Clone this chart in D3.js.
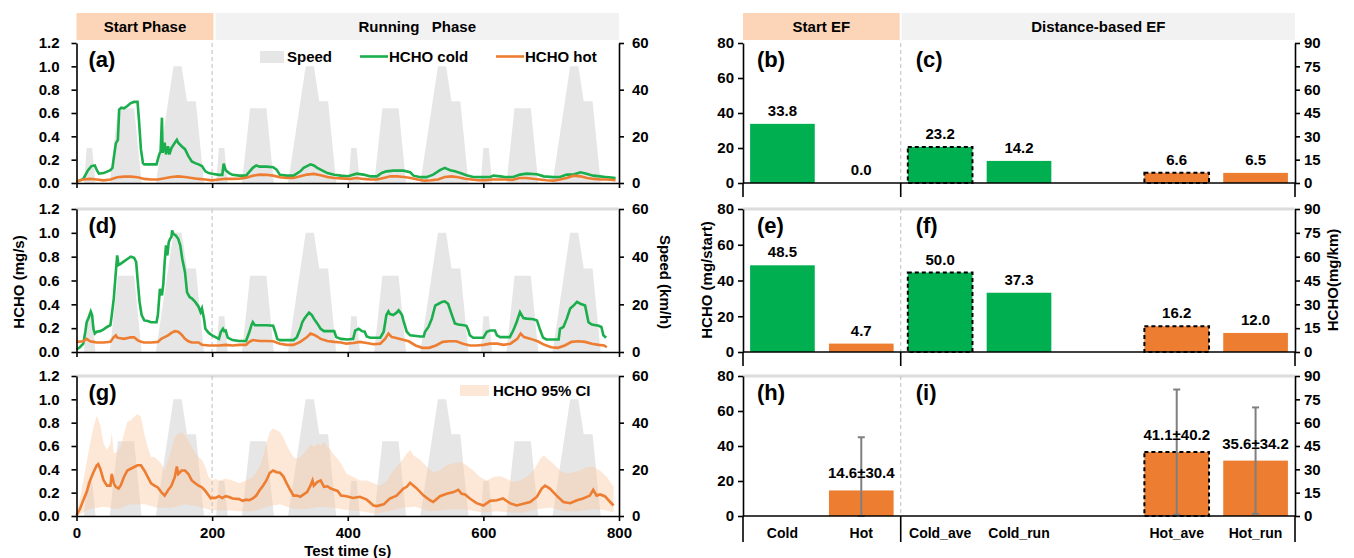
<!DOCTYPE html>
<html>
<head>
<meta charset="utf-8">
<script src="https://cdn.jsdelivr.net/npm/d3@7"></script>
<style>
  body { margin: 0; background: #fff; }
  svg text { font-family: "Liberation Sans", Arial, sans-serif; font-weight: bold; fill: #000; }
</style>
</head>
<body>
<div id="chart"></div>
<script>
// ---- speed profile (km/h), four urban cycles ----
var speedProfile = [
  [0,0],[11,0],[15,15],[23,15],[28,0],[49,0],[61,32],[85,32],[96,0],[117,0],[143,50],[155,50],[163,35],[176,35],[188,0],[195,0],
  [206,0],[210,15],[218,15],[223,0],[244,0],[256,32],[280,32],[291,0],[312,0],[338,50],[350,50],[358,35],[371,35],[383,0],[390,0],
  [401,0],[405,15],[413,15],[418,0],[439,0],[451,32],[475,32],[486,0],[507,0],[533,50],[545,50],[553,35],[566,35],[578,0],[585,0],
  [596,0],[600,15],[608,15],[613,0],[634,0],[646,32],[670,32],[681,0],[702,0],[728,50],[740,50],[748,35],[761,35],[773,0],[800,0]
];

// ---- (a) HCHO mg/s ----
var coldA = [[0,0.01],[10,0.035],[17,0.11],[22,0.145],[27,0.15],[30,0.11],[33,0.08],[40,0.085],[50,0.11],[53,0.13],[55,0.215],[58,0.34],[61,0.37],[63,0.63],[66,0.645],[70,0.64],[75,0.66],[80,0.685],[85,0.695],[90,0.695],[92,0.55],[95,0.29],[98,0.17],[100,0.16],[110,0.16],[118,0.16],[122,0.245],[124,0.27],[126,0.56],[127,0.26],[130,0.345],[132,0.245],[135,0.315],[137,0.245],[140,0.30],[145,0.345],[148,0.37],[150,0.345],[155,0.315],[160,0.29],[165,0.23],[170,0.185],[175,0.17],[180,0.16],[185,0.145],[190,0.10],[195,0.085],[200,0.08],[210,0.07],[215,0.07],[217,0.165],[220,0.11],[225,0.085],[230,0.07],[240,0.063],[250,0.063],[260,0.13],[265,0.15],[270,0.14],[280,0.14],[290,0.135],[295,0.115],[300,0.07],[310,0.063],[320,0.063],[330,0.10],[335,0.13],[340,0.145],[345,0.16],[350,0.15],[355,0.13],[360,0.115],[365,0.10],[370,0.085],[380,0.07],[390,0.063],[400,0.058],[403,0.063],[413,0.08],[423,0.072],[433,0.057],[443,0.057],[450,0.086],[457,0.10],[467,0.106],[482,0.106],[492,0.092],[497,0.063],[507,0.05],[516,0.05],[526,0.072],[536,0.11],[543,0.13],[551,0.11],[558,0.10],[566,0.086],[575,0.066],[585,0.052],[600,0.05],[610,0.052],[615,0.063],[625,0.057],[634,0.05],[644,0.052],[654,0.072],[664,0.08],[679,0.075],[689,0.057],[703,0.05],[713,0.052],[723,0.072],[733,0.072],[743,0.092],[752,0.08],[762,0.063],[772,0.057],[782,0.05],[795,0.043]];
var hotA = [[0,0.015],[10,0.03],[20,0.035],[30,0.03],[40,0.023],[50,0.03],[60,0.05],[70,0.055],[80,0.055],[90,0.05],[100,0.035],[110,0.03],[120,0.03],[130,0.04],[140,0.052],[150,0.057],[160,0.052],[170,0.043],[180,0.035],[190,0.03],[200,0.023],[210,0.03],[220,0.037],[230,0.035],[240,0.037],[250,0.046],[260,0.063],[270,0.072],[280,0.07],[290,0.063],[300,0.05],[310,0.043],[320,0.043],[330,0.057],[340,0.072],[350,0.078],[360,0.066],[370,0.052],[380,0.043],[390,0.04],[403,0.035],[413,0.043],[423,0.035],[433,0.03],[443,0.03],[453,0.043],[463,0.057],[473,0.057],[483,0.052],[493,0.043],[503,0.03],[513,0.02],[523,0.023],[533,0.03],[543,0.052],[553,0.057],[563,0.05],[573,0.037],[583,0.03],[593,0.023],[603,0.023],[613,0.03],[623,0.03],[633,0.03],[643,0.026],[653,0.043],[663,0.043],[673,0.037],[683,0.03],[693,0.023],[703,0.02],[713,0.03],[723,0.043],[733,0.063],[743,0.057],[753,0.043],[763,0.035],[773,0.03],[783,0.03],[795,0.023]];

// ---- (d) HCHO mg/s ----
var coldD = [[0,0.022],[5,0.04],[10,0.07],[13,0.17],[15,0.25],[18,0.29],[21,0.34],[23,0.31],[25,0.195],[27,0.155],[30,0.17],[35,0.175],[40,0.19],[45,0.21],[50,0.225],[52,0.31],[55,0.45],[58,0.67],[60,0.81],[62,0.73],[65,0.74],[70,0.76],[75,0.78],[80,0.80],[85,0.79],[88,0.755],[90,0.615],[93,0.42],[96,0.31],[100,0.265],[105,0.26],[110,0.25],[118,0.25],[120,0.31],[123,0.53],[126,0.475],[128,0.57],[130,0.755],[132,0.895],[134,0.81],[136,0.92],[138,0.95],[140,0.965],[141,1.02],[143,0.99],[146,0.98],[150,0.95],[153,0.895],[156,0.78],[160,0.67],[163,0.50],[167,0.46],[170,0.45],[175,0.42],[180,0.38],[183,0.335],[185,0.365],[188,0.28],[190,0.195],[195,0.16],[200,0.14],[205,0.125],[210,0.11],[213,0.17],[216,0.195],[218,0.175],[220,0.18],[223,0.12],[230,0.10],[240,0.092],[250,0.092],[255,0.17],[258,0.225],[260,0.25],[263,0.225],[270,0.225],[280,0.225],[290,0.22],[293,0.17],[296,0.11],[300,0.10],[310,0.10],[320,0.10],[325,0.125],[330,0.195],[333,0.25],[336,0.28],[340,0.31],[343,0.33],[347,0.31],[350,0.28],[355,0.24],[360,0.195],[365,0.175],[375,0.175],[380,0.175],[383,0.125],[390,0.11],[400,0.105],[408,0.11],[411,0.18],[416,0.195],[421,0.175],[425,0.17],[428,0.13],[433,0.12],[448,0.12],[453,0.17],[457,0.31],[460,0.34],[462,0.32],[467,0.31],[472,0.33],[475,0.35],[477,0.335],[480,0.31],[482,0.265],[487,0.17],[492,0.14],[507,0.13],[512,0.13],[514,0.17],[519,0.21],[524,0.28],[529,0.39],[534,0.405],[539,0.42],[543,0.425],[548,0.405],[553,0.32],[558,0.24],[563,0.23],[571,0.225],[575,0.22],[578,0.18],[580,0.14],[585,0.12],[600,0.12],[605,0.17],[610,0.18],[617,0.18],[620,0.14],[625,0.125],[639,0.125],[644,0.18],[649,0.25],[654,0.335],[659,0.285],[664,0.28],[674,0.275],[679,0.265],[684,0.18],[688,0.12],[693,0.105],[711,0.105],[713,0.195],[718,0.21],[723,0.28],[728,0.365],[733,0.39],[738,0.42],[743,0.405],[750,0.39],[755,0.25],[760,0.23],[770,0.22],[774,0.21],[777,0.14],[781,0.12]];
var hotD = [[0,0.085],[10,0.09],[15,0.11],[20,0.09],[25,0.085],[30,0.08],[40,0.08],[50,0.085],[55,0.125],[58,0.14],[60,0.12],[70,0.11],[80,0.123],[85,0.123],[90,0.10],[95,0.085],[100,0.08],[110,0.08],[120,0.085],[125,0.11],[130,0.125],[135,0.14],[140,0.16],[145,0.175],[150,0.17],[155,0.145],[160,0.11],[165,0.09],[170,0.08],[180,0.08],[185,0.06],[195,0.055],[210,0.055],[220,0.06],[230,0.055],[240,0.06],[250,0.06],[255,0.085],[260,0.10],[270,0.092],[280,0.092],[290,0.09],[300,0.07],[310,0.06],[320,0.06],[330,0.085],[340,0.125],[345,0.155],[350,0.145],[355,0.13],[360,0.11],[370,0.092],[380,0.085],[390,0.08],[398,0.07],[408,0.075],[418,0.085],[428,0.075],[438,0.065],[448,0.07],[455,0.11],[460,0.155],[465,0.125],[470,0.12],[480,0.105],[490,0.09],[500,0.055],[510,0.035],[520,0.035],[530,0.055],[540,0.085],[550,0.09],[560,0.09],[570,0.07],[580,0.055],[590,0.055],[600,0.06],[610,0.07],[620,0.07],[630,0.06],[640,0.07],[650,0.11],[655,0.155],[660,0.125],[670,0.11],[680,0.09],[690,0.06],[700,0.04],[710,0.035],[720,0.055],[730,0.085],[740,0.09],[750,0.085],[760,0.07],[770,0.06],[778,0.055],[782,0.04]];

// ---- (g) HCHO hot mean and 95% CI ----
var meanG = [[0,0.005],[5,0.06],[10,0.135],[15,0.205],[20,0.305],[25,0.375],[30,0.435],[32,0.445],[35,0.405],[40,0.305],[45,0.26],[50,0.26],[52,0.36],[55,0.28],[58,0.25],[62,0.235],[65,0.26],[70,0.335],[75,0.39],[80,0.405],[85,0.42],[90,0.435],[95,0.435],[100,0.39],[105,0.335],[110,0.28],[115,0.26],[120,0.245],[125,0.205],[130,0.175],[135,0.22],[140,0.26],[145,0.335],[148,0.425],[150,0.36],[155,0.39],[160,0.39],[165,0.36],[170,0.305],[175,0.28],[180,0.26],[185,0.245],[190,0.215],[195,0.175],[198,0.15],[200,0.155],[205,0.155],[210,0.17],[215,0.155],[220,0.17],[225,0.163],[230,0.15],[240,0.145],[245,0.13],[250,0.14],[255,0.135],[260,0.15],[265,0.175],[270,0.22],[275,0.26],[280,0.305],[285,0.37],[290,0.39],[295,0.375],[300,0.37],[305,0.34],[310,0.28],[315,0.225],[320,0.175],[325,0.175],[330,0.165],[335,0.185],[340,0.205],[345,0.26],[348,0.305],[350,0.26],[355,0.29],[360,0.305],[365,0.25],[370,0.255],[375,0.235],[380,0.225],[385,0.215],[390,0.175],[398,0.17],[408,0.155],[418,0.165],[428,0.14],[438,0.09],[443,0.085],[453,0.1],[462,0.15],[472,0.175],[482,0.235],[487,0.25],[492,0.285],[497,0.26],[502,0.235],[512,0.175],[521,0.135],[526,0.12],[536,0.17],[546,0.19],[556,0.205],[563,0.225],[568,0.19],[573,0.185],[580,0.15],[590,0.11],[600,0.09],[610,0.13],[620,0.135],[629,0.15],[639,0.11],[649,0.09],[659,0.105],[669,0.12],[679,0.165],[686,0.235],[691,0.26],[698,0.235],[708,0.175],[718,0.12],[728,0.11],[738,0.135],[747,0.15],[757,0.175],[762,0.225],[767,0.175],[772,0.185],[779,0.17],[787,0.12],[792,0.09]];
var upperG = [[0,0],[10,0.305],[20,0.62],[25,0.76],[30,0.86],[35,0.78],[40,0.62],[45,0.565],[50,0.62],[52,0.72],[55,0.535],[60,0.55],[65,0.59],[70,0.705],[75,0.805],[80,0.82],[85,0.85],[90,0.875],[95,0.85],[100,0.705],[105,0.59],[110,0.505],[115,0.505],[120,0.48],[125,0.45],[130,0.39],[135,0.48],[140,0.565],[145,0.675],[150,0.705],[155,0.72],[160,0.69],[165,0.65],[170,0.59],[175,0.535],[180,0.505],[185,0.48],[190,0.42],[195,0.335],[200,0.305],[205,0.32],[210,0.305],[220,0.32],[230,0.305],[240,0.28],[250,0.305],[260,0.335],[270,0.42],[275,0.505],[280,0.62],[285,0.72],[290,0.75],[295,0.735],[300,0.72],[305,0.675],[310,0.605],[315,0.55],[320,0.505],[325,0.49],[330,0.505],[335,0.535],[340,0.565],[345,0.62],[350,0.59],[355,0.62],[360,0.605],[365,0.635],[370,0.59],[375,0.565],[380,0.52],[385,0.49],[390,0.45],[398,0.365],[408,0.335],[418,0.305],[428,0.305],[438,0.28],[448,0.26],[458,0.305],[467,0.39],[477,0.45],[487,0.535],[492,0.565],[497,0.52],[507,0.48],[517,0.42],[526,0.375],[536,0.39],[546,0.435],[556,0.45],[566,0.465],[575,0.435],[585,0.39],[595,0.335],[605,0.305],[615,0.335],[625,0.34],[634,0.32],[644,0.29],[654,0.305],[664,0.335],[674,0.39],[684,0.49],[689,0.52],[694,0.49],[703,0.45],[713,0.39],[723,0.365],[733,0.375],[743,0.39],[752,0.42],[762,0.42],[772,0.39],[782,0.335],[792,0.25]];
var lowerG = [[0,0],[20,0.06],[40,0.08],[60,0.06],[80,0.1],[100,0.1],[120,0.07],[140,0.07],[160,0.1],[180,0.08],[200,0.05],[220,0.05],[240,0.04],[260,0.04],[280,0.08],[300,0.1],[320,0.06],[340,0.06],[360,0.08],[380,0.07],[400,0.05],[420,0.04],[440,0.02],[460,0.04],[480,0.07],[500,0.08],[520,0.04],[540,0.05],[560,0.06],[580,0.05],[600,0.03],[620,0.04],[640,0.03],[660,0.03],[680,0.06],[700,0.07],[720,0.04],[740,0.04],[760,0.06],[780,0.05],[792,0.03]];

// ---- emission factors (right column) ----
var categories = ["Cold", "Hot", "Cold_ave", "Cold_run", "", "Hot_ave", "Hot_run"];
var perStart = [true, true, false, false, false, false, false];   // left axis mg/start, else mg/km
var efB = [33.8, 0.0, 23.2, 14.2, null, 6.6, 6.5];
var efE = [48.5, 4.7, 50.0, 37.3, null, 16.2, 12.0];
var efH = [null, 14.6, null, null, null, 41.1, 35.6];
var errH = [null, 30.4, null, null, null, 40.2, 34.2];

var leftTicks = [0, 0.2, 0.4, 0.6, 0.8, 1.0, 1.2];
var speedTicks = [0, 20, 40, 60];
var timeTicks = [0, 200, 400, 600, 800];
var startTicks = [0, 20, 40, 60, 80];
var kmTicks = [0, 15, 30, 45, 60, 75, 90];

var GREEN = "#1aae4c", ORANGE = "#ed7d31", GREY = "#e6e6e6";

var width = 1354, height = 558;
var svg = d3.select("#chart").append("svg").attr("width", width).attr("height", height);

var rows = [[43, 183], [209, 352], [376, 516]];
var x = d3.scaleLinear().domain([0, 800]).range([76.5, 619]);

function styleAxis(g) {
  g.selectAll(".domain").attr("stroke", "#000").attr("stroke-width", 1.6);
  g.selectAll(".tick line").attr("stroke", "#000").attr("stroke-width", 1.6);
  g.selectAll(".tick text").attr("font-size", "15px");
}

// ---------- header boxes ----------
function header(x0, x1, label, fill) {
  svg.append("rect").attr("x", x0).attr("y", 13).attr("width", x1 - x0).attr("height", 27).attr("fill", fill);
  svg.append("text").attr("x", (x0 + x1) / 2).attr("y", 32).attr("text-anchor", "middle")
    .attr("font-size", "15px").style("white-space", "pre").text(label);
}
header(76.5, 213.5, "Start Phase", "#fcd5b8");
header(215.5, 619, "Running   Phase", "#f2f2f2");

// ---------- left column: time series ----------
var leftPanels = [
  {tag: "(a)", cold: coldA, hot: hotA},
  {tag: "(d)", cold: coldD, hot: hotD},
  {tag: "(g)", mean: meanG, upper: upperG, lower: lowerG}
];

leftPanels.forEach(function(p, i) {
  var top = rows[i][0], bottom = rows[i][1];
  var y = d3.scaleLinear().domain([0, 1.2]).range([bottom, top]);
  var ys = d3.scaleLinear().domain([0, 60]).range([bottom, top]);
  var g = svg.append("g");

  if (i > 0) {
    g.append("line").attr("x1", x(0)).attr("x2", x(800)).attr("y1", top).attr("y2", top)
      .attr("stroke", "#dcdcdc").attr("stroke-width", 3);
  }

  var area = d3.area().x(function(d) { return x(d[0]); }).y0(bottom).y1(function(d) { return ys(d[1]); });
  g.append("path").datum(speedProfile).attr("d", area).attr("fill", GREY);

  var line = d3.line().x(function(d) { return x(d[0]); }).y(function(d) { return y(d[1]); });

  if (p.upper) {
    var band = p.upper.concat(p.lower.slice().reverse());
    g.append("path").attr("d", line(band) + "Z").attr("fill", "#fbc9a4").attr("opacity", 0.45);
  }

  g.append("line").attr("x1", x(200)).attr("x2", x(200)).attr("y1", top).attr("y2", bottom)
    .attr("stroke", "#c8c8c8").attr("stroke-width", 1.2).attr("stroke-dasharray", "4,3");

  if (p.cold) {
    g.append("path").datum(p.cold).attr("d", line).attr("fill", "none").attr("stroke", GREEN).attr("stroke-width", 2.6);
    g.append("path").datum(p.hot).attr("d", line).attr("fill", "none").attr("stroke", ORANGE).attr("stroke-width", 2.6);
  } else {
    g.append("path").datum(p.mean).attr("d", line).attr("fill", "none").attr("stroke", ORANGE).attr("stroke-width", 2.6);
  }

  g.append("g").attr("transform", "translate(" + x(0) + ",0)")
    .call(d3.axisLeft(y).tickValues(leftTicks).tickFormat(d3.format(".1f")).tickSize(5).tickSizeOuter(0).tickPadding(12))
    .call(styleAxis);
  g.append("g").attr("transform", "translate(" + x(800) + ",0)")
    .call(d3.axisRight(ys).tickValues(speedTicks).tickSize(5).tickSizeOuter(0).tickPadding(8))
    .call(styleAxis);
  g.append("g").attr("transform", "translate(0," + bottom + ")")
    .call(d3.axisBottom(x).tickValues(timeTicks).tickSize(5).tickSizeOuter(0).tickPadding(6)
      .tickFormat(i === 2 ? d3.format("d") : function() { return ""; }))
    .call(styleAxis);

  g.append("text").attr("x", x(0) + 12).attr("y", top + 24).attr("font-size", "22px").text(p.tag);
});

// legends for (a) and (g)
var lg = svg.append("g").attr("font-size", "15px");
lg.append("rect").attr("x", 260).attr("y", 51).attr("width", 24).attr("height", 12).attr("fill", GREY);
lg.append("text").attr("x", 287).attr("y", 62).attr("font-size", "15px").text("Speed");
lg.append("line").attr("x1", 360).attr("x2", 388).attr("y1", 56.5).attr("y2", 56.5).attr("stroke", GREEN).attr("stroke-width", 2.6);
lg.append("text").attr("x", 389).attr("y", 62).attr("font-size", "15px").text("HCHO cold");
lg.append("line").attr("x1", 496).attr("x2", 524).attr("y1", 56.5).attr("y2", 56.5).attr("stroke", ORANGE).attr("stroke-width", 2.6);
lg.append("text").attr("x", 525).attr("y", 62).attr("font-size", "15px").text("HCHO hot");
lg.append("rect").attr("x", 460).attr("y", 385).attr("width", 29).attr("height", 11).attr("fill", "#fbc9a4").attr("opacity", 0.45);
lg.append("text").attr("x", 493).attr("y", 396).attr("font-size", "15px").text("HCHO 95% CI");

svg.append("text").attr("transform", "translate(24,282) rotate(-90)").attr("text-anchor", "middle")
  .attr("font-size", "15px").text("HCHO (mg/s)");
svg.append("text").attr("transform", "translate(660,282) rotate(90)").attr("text-anchor", "middle")
  .attr("font-size", "15px").text("Speed (km/h)");
svg.append("text").attr("x", x(400)).attr("y", 556).attr("text-anchor", "middle")
  .attr("font-size", "15px").text("Test time (s)");

// ---------- right column: emission factor bars ----------
var band = d3.scaleBand().domain(d3.range(categories.length)).range([743, 1295])
  .paddingInner(0.18).paddingOuter(0.09);
var divider = 743 + band.step() * 2;

header(743, divider - 1, "Start EF", "#fcd5b8");
header(divider + 1, 1295, "Distance-based EF", "#f2f2f2");

var rightPanels = [
  {tags: ["(b)", "(c)"], values: efB},
  {tags: ["(e)", "(f)"], values: efE},
  {tags: ["(h)", "(i)"], values: efH, err: errH}
];

rightPanels.forEach(function(p, i) {
  var top = rows[i][0], bottom = rows[i][1];
  var yL = d3.scaleLinear().domain([0, 80]).range([bottom, top]);
  var yR = d3.scaleLinear().domain([0, 90]).range([bottom, top]);
  var g = svg.append("g");
  var yOf = function(k) { return perStart[k] ? yL : yR; };

  if (i > 0) {
    g.append("line").attr("x1", 743).attr("x2", 1295).attr("y1", top).attr("y2", top)
      .attr("stroke", "#dcdcdc").attr("stroke-width", 3);
  }
  g.append("line").attr("x1", divider).attr("x2", divider).attr("y1", top).attr("y2", bottom)
    .attr("stroke", "#c8c8c8").attr("stroke-width", 1.2).attr("stroke-dasharray", "4,3");

  var idx = d3.range(categories.length).filter(function(k) { return p.values[k] != null; });

  g.selectAll(".bar").data(idx).enter().append("rect")
    .attr("x", function(k) { return band(k); })
    .attr("width", band.bandwidth())
    .attr("y", function(k) { return yOf(k)(p.values[k]); })
    .attr("height", function(k) { return bottom - yOf(k)(p.values[k]); })
    .attr("fill", function(k) { return categories[k].indexOf("Cold") === 0 ? "#00b050" : ORANGE; })
    .attr("stroke", function(k) { return /_ave$/.test(categories[k]) ? "#000" : "none"; })
    .attr("stroke-width", 2).attr("stroke-dasharray", "4,3");

  if (p.err) {
    idx.forEach(function(k) {
      var s = yOf(k), cx = band(k) + band.bandwidth() / 2;
      var hi = s(p.values[k] + p.err[k]), lo = s(Math.max(0, p.values[k] - p.err[k]));
      g.append("line").attr("x1", cx).attr("x2", cx).attr("y1", hi).attr("y2", lo).attr("stroke", "#7f7f7f").attr("stroke-width", 2);
      [hi, lo].forEach(function(yy) {
        g.append("line").attr("x1", cx - 3.5).attr("x2", cx + 3.5).attr("y1", yy).attr("y2", yy).attr("stroke", "#7f7f7f").attr("stroke-width", 2);
      });
    });
  }

  g.selectAll(".lbl").data(idx).enter().append("text")
    .attr("x", function(k) { return band(k) + band.bandwidth() / 2; })
    .attr("y", function(k) { return yOf(k)(p.values[k]) - (p.err ? 12 : 8); })
    .attr("text-anchor", "middle").attr("font-size", "15px")
    .text(function(k) {
      return p.err ? p.values[k].toFixed(1) + "\u00b1" + p.err[k].toFixed(1) : p.values[k].toFixed(1);
    });

  // zero line and category separators
  g.append("line").attr("x1", 743).attr("x2", 1295).attr("y1", bottom).attr("y2", bottom).attr("stroke", "#000").attr("stroke-width", 1.6);
  var sepLen = i === 2 ? 26 : 14;
  [743, divider, 1295].forEach(function(sx) {
    g.append("line").attr("x1", sx).attr("x2", sx).attr("y1", bottom).attr("y2", bottom + sepLen).attr("stroke", "#000").attr("stroke-width", 1.6);
  });
  if (i === 2) {
    categories.forEach(function(c, k) {
      g.append("text").attr("x", band(k) + band.bandwidth() / 2).attr("y", bottom + 22)
        .attr("text-anchor", "middle").attr("font-size", "14px").text(c);
    });
  }

  g.append("g").attr("transform", "translate(743,0)")
    .call(d3.axisLeft(yL).tickValues(startTicks).tickSize(5).tickSizeOuter(0).tickPadding(4))
    .call(styleAxis);
  g.append("g").attr("transform", "translate(1295,0)")
    .call(d3.axisRight(yR).tickValues(kmTicks).tickSize(5).tickSizeOuter(0).tickPadding(4))
    .call(styleAxis);

  g.append("text").attr("x", 757).attr("y", top + 24).attr("font-size", "22px").text(p.tags[0]);
  g.append("text").attr("x", divider + 15).attr("y", top + 24).attr("font-size", "22px").text(p.tags[1]);
});

svg.append("text").attr("transform", "translate(712,280) rotate(-90)").attr("text-anchor", "middle")
  .attr("font-size", "15px").text("HCHO (mg/start)");
svg.append("text").attr("transform", "translate(1338,280) rotate(-90)").attr("text-anchor", "middle")
  .attr("font-size", "15px").text("HCHO(mg/km)");
</script>
</body>
</html>
